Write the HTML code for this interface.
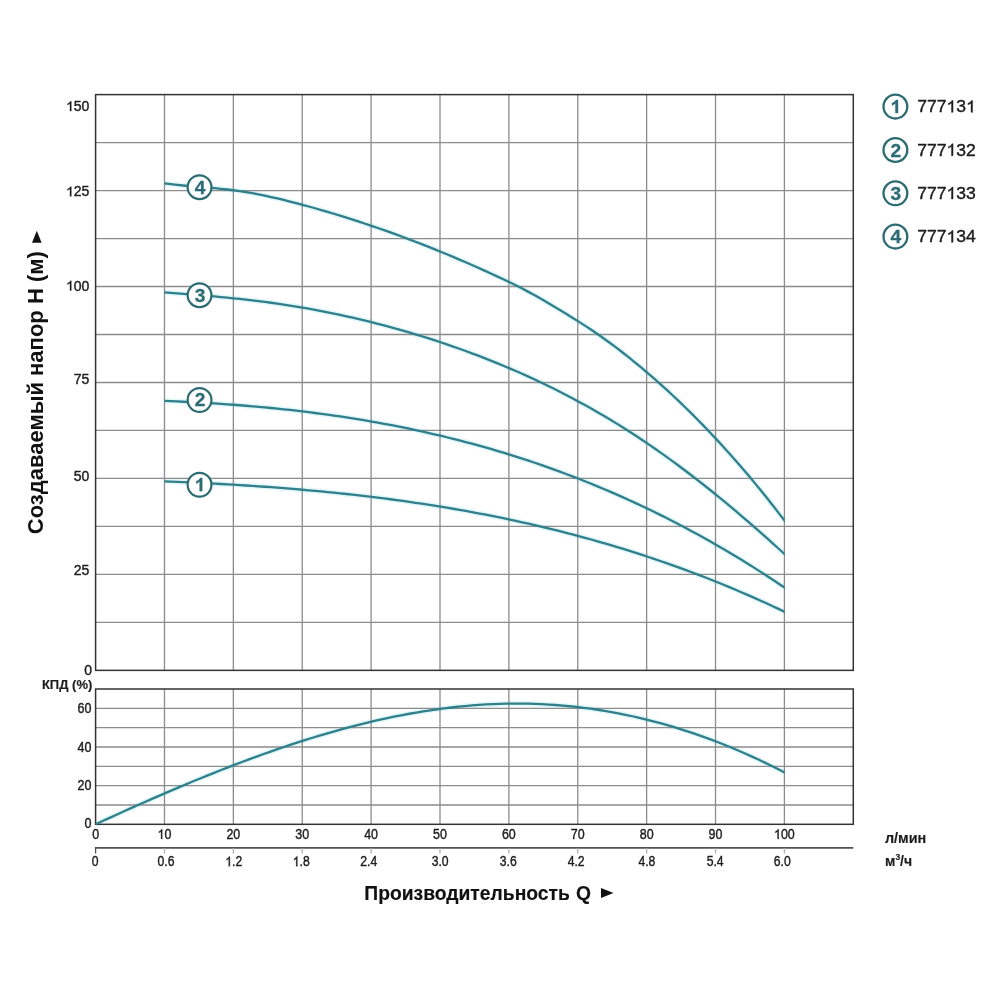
<!DOCTYPE html><html><head><meta charset="utf-8"><style>html,body{margin:0;padding:0;background:#fff;overflow:hidden}svg{display:block;will-change:transform}text{font-family:"Liberation Sans",sans-serif}</style></head><body>
<svg width="1000" height="1000" viewBox="0 0 1000 1000">
<rect width="1000" height="1000" fill="#fff"/>
<defs><clipPath id="cr"><rect x="90" y="0" width="694.7" height="1000"/></clipPath></defs>
<path d="M164.40,183.34 L170.66,184.15 L176.92,184.85 L183.18,185.48 L189.44,186.06 L195.70,186.59 L201.96,187.12 L208.22,187.65 L214.48,188.20 L220.75,188.80 L227.01,189.48 L233.27,190.24 L239.53,191.10 L245.79,192.08 L252.05,193.16 L258.31,194.34 L264.57,195.61 L270.83,196.95 L277.09,198.38 L283.35,199.87 L289.61,201.43 L295.87,203.04 L302.13,204.70 L308.39,206.40 L314.65,208.14 L320.92,209.93 L327.18,211.75 L333.44,213.62 L339.70,215.52 L345.96,217.47 L352.22,219.46 L358.48,221.48 L364.74,223.55 L371.00,225.66 L377.26,227.81 L383.52,229.99 L389.78,232.22 L396.04,234.48 L402.30,236.79 L408.56,239.13 L414.82,241.51 L421.08,243.93 L427.35,246.39 L433.61,248.89 L439.87,251.42 L446.13,254.00 L452.39,256.61 L458.65,259.26 L464.91,261.95 L471.17,264.67 L477.43,267.43 L483.69,270.23 L489.95,273.07 L496.21,275.94 L502.47,278.85 L508.73,281.81 L514.99,284.88 L521.25,288.07 L527.52,291.37 L533.78,294.78 L540.04,298.29 L546.30,301.88 L552.56,305.56 L558.82,309.31 L565.08,313.13 L571.34,317.01 L577.60,320.93 L583.86,324.92 L590.12,329.04 L596.38,333.28 L602.64,337.67 L608.90,342.18 L615.16,346.82 L621.42,351.60 L627.68,356.50 L633.95,361.53 L640.21,366.68 L646.47,371.96 L652.73,377.36 L658.99,382.89 L665.25,388.53 L671.51,394.29 L677.77,400.18 L684.03,406.18 L690.29,412.32 L696.55,418.57 L702.81,424.96 L709.07,431.47 L715.33,438.12 L721.59,444.89 L727.85,451.80 L734.12,458.84 L740.38,466.02 L746.64,473.34 L752.90,480.80 L759.16,488.39 L765.42,496.13 L771.68,504.01 L777.94,512.03 L784.20,520.20 M164.40,292.29 L170.66,292.79 L176.92,293.30 L183.18,293.80 L189.44,294.31 L195.70,294.83 L201.96,295.35 L208.22,295.90 L214.48,296.46 L220.75,297.03 L227.01,297.64 L233.27,298.26 L239.53,298.92 L245.79,299.60 L252.05,300.33 L258.31,301.08 L264.57,301.88 L270.83,302.72 L277.09,303.60 L283.35,304.53 L289.61,305.50 L295.87,306.51 L302.13,307.56 L308.39,308.66 L314.65,309.80 L320.92,310.99 L327.18,312.22 L333.44,313.49 L339.70,314.81 L345.96,316.17 L352.22,317.58 L358.48,319.03 L364.74,320.52 L371.00,322.06 L377.26,323.65 L383.52,325.28 L389.78,326.96 L396.04,328.68 L402.30,330.45 L408.56,332.27 L414.82,334.13 L421.08,336.04 L427.35,338.00 L433.61,340.00 L439.87,342.05 L446.13,344.14 L452.39,346.29 L458.65,348.48 L464.91,350.73 L471.17,353.03 L477.43,355.38 L483.69,357.78 L489.95,360.24 L496.21,362.75 L502.47,365.32 L508.73,367.96 L514.99,370.65 L521.25,373.40 L527.52,376.21 L533.78,379.08 L540.04,382.02 L546.30,385.03 L552.56,388.10 L558.82,391.23 L565.08,394.44 L571.34,397.71 L577.60,401.06 L583.86,404.47 L590.12,407.96 L596.38,411.53 L602.64,415.17 L608.90,418.88 L615.16,422.67 L621.42,426.54 L627.68,430.49 L633.95,434.52 L640.21,438.64 L646.47,442.83 L652.73,447.11 L658.99,451.47 L665.25,455.91 L671.51,460.43 L677.77,465.03 L684.03,469.70 L690.29,474.46 L696.55,479.28 L702.81,484.18 L709.07,489.15 L715.33,494.18 L721.59,499.29 L727.85,504.46 L734.12,509.70 L740.38,515.00 L746.64,520.36 L752.90,525.79 L759.16,531.27 L765.42,536.81 L771.68,542.41 L777.94,548.06 L784.20,553.77 M164.40,400.93 L170.66,401.18 L176.92,401.45 L183.18,401.73 L189.44,402.04 L195.70,402.36 L201.96,402.70 L208.22,403.07 L214.48,403.46 L220.75,403.87 L227.01,404.30 L233.27,404.75 L239.53,405.23 L245.79,405.73 L252.05,406.26 L258.31,406.81 L264.57,407.38 L270.83,407.98 L277.09,408.61 L283.35,409.26 L289.61,409.94 L295.87,410.65 L302.13,411.38 L308.39,412.15 L314.65,412.94 L320.92,413.76 L327.18,414.61 L333.44,415.50 L339.70,416.41 L345.96,417.35 L352.22,418.33 L358.48,419.34 L364.74,420.38 L371.00,421.45 L377.26,422.56 L383.52,423.70 L389.78,424.87 L396.04,426.08 L402.30,427.33 L408.56,428.61 L414.82,429.93 L421.08,431.28 L427.35,432.67 L433.61,434.10 L439.87,435.57 L446.13,437.07 L452.39,438.62 L458.65,440.20 L464.91,441.83 L471.17,443.49 L477.43,445.20 L483.69,446.94 L489.95,448.73 L496.21,450.56 L502.47,452.43 L508.73,454.35 L514.99,456.30 L521.25,458.31 L527.52,460.35 L533.78,462.44 L540.04,464.58 L546.30,466.76 L552.56,468.99 L558.82,471.26 L565.08,473.58 L571.34,475.95 L577.60,478.36 L583.86,480.82 L590.12,483.33 L596.38,485.89 L602.64,488.50 L608.90,491.16 L615.16,493.86 L621.42,496.62 L627.68,499.43 L633.95,502.29 L640.21,505.20 L646.47,508.17 L652.73,511.18 L658.99,514.25 L665.25,517.38 L671.51,520.55 L677.77,523.78 L684.03,527.07 L690.29,530.41 L696.55,533.80 L702.81,537.26 L709.07,540.76 L715.33,544.33 L721.59,547.95 L727.85,551.63 L734.12,555.37 L740.38,559.16 L746.64,563.02 L752.90,566.93 L759.16,570.90 L765.42,574.94 L771.68,579.03 L777.94,583.19 L784.20,587.40 M164.40,481.30 L170.66,481.56 L176.92,481.82 L183.18,482.10 L189.44,482.38 L195.70,482.67 L201.96,482.98 L208.22,483.30 L214.48,483.63 L220.75,483.97 L227.01,484.33 L233.27,484.69 L239.53,485.07 L245.79,485.47 L252.05,485.88 L258.31,486.30 L264.57,486.74 L270.83,487.19 L277.09,487.66 L283.35,488.14 L289.61,488.65 L295.87,489.16 L302.13,489.70 L308.39,490.25 L314.65,490.82 L320.92,491.41 L327.18,492.02 L333.44,492.64 L339.70,493.29 L345.96,493.95 L352.22,494.64 L358.48,495.34 L364.74,496.07 L371.00,496.82 L377.26,497.58 L383.52,498.38 L389.78,499.19 L396.04,500.02 L402.30,500.88 L408.56,501.76 L414.82,502.67 L421.08,503.60 L427.35,504.56 L433.61,505.54 L439.87,506.54 L446.13,507.57 L452.39,508.63 L458.65,509.71 L464.91,510.82 L471.17,511.96 L477.43,513.12 L483.69,514.31 L489.95,515.53 L496.21,516.78 L502.47,518.06 L508.73,519.37 L514.99,520.70 L521.25,522.07 L527.52,523.47 L533.78,524.90 L540.04,526.36 L546.30,527.85 L552.56,529.37 L558.82,530.93 L565.08,532.52 L571.34,534.14 L577.60,535.79 L583.86,537.48 L590.12,539.21 L596.38,540.96 L602.64,542.76 L608.90,544.59 L615.16,546.45 L621.42,548.35 L627.68,550.29 L633.95,552.26 L640.21,554.27 L646.47,556.32 L652.73,558.40 L658.99,560.53 L665.25,562.69 L671.51,564.89 L677.77,567.13 L684.03,569.41 L690.29,571.74 L696.55,574.10 L702.81,576.50 L709.07,578.95 L715.33,581.43 L721.59,583.96 L727.85,586.53 L734.12,589.14 L740.38,591.80 L746.64,594.50 L752.90,597.24 L759.16,600.03 L765.42,602.86 L771.68,605.74 L777.94,608.66 L784.20,611.63 M95.60,824.24 L102.56,821.04 L109.51,817.87 L116.47,814.71 L123.43,811.56 L130.38,808.44 L137.34,805.34 L144.30,802.26 L151.25,799.20 L158.21,796.16 L165.17,793.15 L172.12,790.17 L179.08,787.22 L186.04,784.29 L192.99,781.40 L199.95,778.53 L206.91,775.71 L213.86,772.91 L220.82,770.15 L227.77,767.43 L234.73,764.75 L241.69,762.10 L248.64,759.50 L255.60,756.94 L262.56,754.42 L269.51,751.95 L276.47,749.52 L283.43,747.14 L290.38,744.81 L297.34,742.53 L304.30,740.30 L311.25,738.12 L318.21,736.00 L325.17,733.93 L332.12,731.92 L339.08,729.96 L346.04,728.07 L352.99,726.23 L359.95,724.46 L366.91,722.75 L373.86,721.10 L380.82,719.52 L387.78,718.01 L394.73,716.56 L401.69,715.18 L408.65,713.88 L415.60,712.64 L422.56,711.48 L429.52,710.39 L436.47,709.38 L443.43,708.44 L450.38,707.59 L457.34,706.81 L464.30,706.11 L471.25,705.50 L478.21,704.97 L485.17,704.52 L492.12,704.16 L499.08,703.89 L506.04,703.70 L512.99,703.61 L519.95,703.61 L526.91,703.69 L533.86,703.87 L540.82,704.14 L547.78,704.50 L554.73,704.95 L561.69,705.49 L568.65,706.12 L575.60,706.85 L582.56,707.67 L589.52,708.58 L596.47,709.58 L603.43,710.68 L610.39,711.87 L617.34,713.15 L624.30,714.52 L631.26,715.99 L638.21,717.55 L645.17,719.21 L652.13,720.96 L659.08,722.81 L666.04,724.75 L672.99,726.78 L679.95,728.91 L686.91,731.13 L693.86,733.45 L700.82,735.87 L707.78,738.38 L714.73,740.98 L721.69,743.68 L728.65,746.48 L735.60,749.38 L742.56,752.37 L749.52,755.46 L756.47,758.64 L763.43,761.92 L770.39,765.30 L777.34,768.78 L784.30,772.36" stroke="#e3f8fa" stroke-width="5.5" fill="none"/>
<path d="M164.48,94.6 V670.36 M233.36,94.6 V670.36 M302.24,94.6 V670.36 M371.12,94.6 V670.36 M440.00,94.6 V670.36 M508.88,94.6 V670.36 M577.76,94.6 V670.36 M646.64,94.6 V670.36 M715.52,94.6 V670.36 M784.40,94.6 V670.36 M95.6,142.58 H853.28 M95.6,190.56 H853.28 M95.6,238.54 H853.28 M95.6,286.52 H853.28 M95.6,334.50 H853.28 M95.6,382.48 H853.28 M95.6,430.46 H853.28 M95.6,478.44 H853.28 M95.6,526.42 H853.28 M95.6,574.40 H853.28 M95.6,622.38 H853.28 M164.48,689.0 V824.31 M233.36,689.0 V824.31 M302.24,689.0 V824.31 M371.12,689.0 V824.31 M440.00,689.0 V824.31 M508.88,689.0 V824.31 M577.76,689.0 V824.31 M646.64,689.0 V824.31 M715.52,689.0 V824.31 M784.40,689.0 V824.31 M95.6,708.33 H853.28 M95.6,727.66 H853.28 M95.6,746.99 H853.28 M95.6,766.32 H853.28 M95.6,785.65 H853.28 M95.6,804.98 H853.28" stroke="#8c8c8c" stroke-width="1.3" fill="none"/>
<rect x="95.6" y="94.6" width="757.68" height="575.76" stroke="#333" stroke-width="1.5" fill="none"/>
<rect x="95.6" y="689.0" width="757.68" height="135.31" stroke="#333" stroke-width="1.5" fill="none"/>
<path d="M94.89999999999999,847.9 H853.28" stroke="#505050" stroke-width="1.6" fill="none"/>
<path d="M95.6,847.9 V853.5" stroke="#505050" stroke-width="1.3" fill="none"/>
<path d="M164.48,847.9 V853.5 M233.36,847.9 V853.5 M302.24,847.9 V853.5 M371.12,847.9 V853.5 M440.00,847.9 V853.5 M508.88,847.9 V853.5 M577.76,847.9 V853.5 M646.64,847.9 V853.5 M715.52,847.9 V853.5 M784.40,847.9 V853.5" stroke="#b0b0b0" stroke-width="1.3" fill="none"/>
<path d="M164.40,183.34 L170.68,184.15 L176.95,184.86 L183.23,185.49 L189.51,186.06 L195.78,186.60 L202.06,187.13 L208.34,187.66 L214.61,188.21 L220.89,188.82 L227.17,189.49 L233.44,190.26 L239.72,191.13 L246.00,192.11 L252.27,193.20 L258.55,194.39 L264.83,195.66 L271.11,197.02 L277.38,198.45 L283.66,199.95 L289.94,201.51 L296.21,203.13 L302.49,204.80 L308.77,206.50 L315.04,208.25 L321.32,210.04 L327.60,211.88 L333.87,213.75 L340.15,215.66 L346.43,217.62 L352.70,219.61 L358.98,221.65 L365.26,223.72 L371.53,225.84 L377.81,228.00 L384.09,230.19 L390.36,232.43 L396.64,234.70 L402.92,237.01 L409.19,239.37 L415.47,241.76 L421.75,244.19 L428.02,246.66 L434.30,249.17 L440.58,251.72 L446.85,254.30 L453.13,256.92 L459.41,259.58 L465.68,262.28 L471.96,265.02 L478.24,267.79 L484.52,270.60 L490.79,273.45 L497.07,276.34 L503.35,279.26 L509.62,282.24 L515.90,285.33 L522.18,288.55 L528.45,291.88 L534.73,295.31 L541.01,298.84 L547.28,302.46 L553.56,306.16 L559.84,309.93 L566.11,313.77 L572.39,317.66 L578.67,321.61 L584.94,325.62 L591.22,329.77 L597.50,334.05 L603.77,338.47 L610.05,343.02 L616.33,347.70 L622.60,352.51 L628.88,357.45 L635.16,362.52 L641.43,367.71 L647.71,373.03 L653.99,378.47 L660.26,384.03 L666.54,389.71 L672.82,395.51 L679.09,401.44 L685.37,407.49 L691.65,413.66 L697.93,419.96 L704.20,426.39 L710.48,432.95 L716.76,439.64 L723.03,446.47 L729.31,453.42 L735.59,460.52 L741.86,467.75 L748.14,475.12 L754.42,482.63 L760.69,490.28 L766.97,498.07 L773.25,506.01 L779.52,514.09 L785.80,522.31" stroke="#307f8b" stroke-width="2.3" fill="none" clip-path="url(#cr)"/>
<path d="M164.40,292.29 L170.68,292.80 L176.95,293.30 L183.23,293.80 L189.51,294.31 L195.78,294.83 L202.06,295.36 L208.34,295.91 L214.61,296.47 L220.89,297.05 L227.17,297.65 L233.44,298.28 L239.72,298.94 L246.00,299.63 L252.27,300.35 L258.55,301.11 L264.83,301.92 L271.11,302.76 L277.38,303.65 L283.66,304.58 L289.94,305.55 L296.21,306.57 L302.49,307.63 L308.77,308.73 L315.04,309.88 L321.32,311.07 L327.60,312.30 L333.87,313.58 L340.15,314.90 L346.43,316.27 L352.70,317.69 L358.98,319.14 L365.26,320.65 L371.53,322.20 L377.81,323.79 L384.09,325.43 L390.36,327.12 L396.64,328.85 L402.92,330.63 L409.19,332.45 L415.47,334.33 L421.75,336.24 L428.02,338.21 L434.30,340.22 L440.58,342.28 L446.85,344.39 L453.13,346.55 L459.41,348.75 L465.68,351.01 L471.96,353.32 L478.24,355.68 L484.52,358.10 L490.79,360.57 L497.07,363.10 L503.35,365.69 L509.62,368.33 L515.90,371.04 L522.18,373.81 L528.45,376.63 L534.73,379.53 L541.01,382.48 L547.28,385.50 L553.56,388.59 L559.84,391.75 L566.11,394.97 L572.39,398.27 L578.67,401.64 L584.94,405.07 L591.22,408.58 L597.50,412.17 L603.77,415.83 L610.05,419.57 L616.33,423.39 L622.60,427.28 L628.88,431.26 L635.16,435.31 L641.43,439.45 L647.71,443.67 L653.99,447.98 L660.26,452.37 L666.54,456.84 L672.82,461.39 L679.09,466.01 L685.37,470.72 L691.65,475.50 L697.93,480.35 L704.20,485.27 L710.48,490.27 L716.76,495.34 L723.03,500.47 L729.31,505.67 L735.59,510.94 L741.86,516.27 L748.14,521.66 L754.42,527.11 L760.69,532.62 L766.97,538.19 L773.25,543.82 L779.52,549.50 L785.80,555.23" stroke="#307f8b" stroke-width="2.3" fill="none" clip-path="url(#cr)"/>
<path d="M164.40,400.93 L170.68,401.18 L176.95,401.45 L183.23,401.73 L189.51,402.04 L195.78,402.36 L202.06,402.71 L208.34,403.08 L214.61,403.47 L220.89,403.88 L227.17,404.31 L233.44,404.77 L239.72,405.25 L246.00,405.75 L252.27,406.28 L258.55,406.83 L264.83,407.41 L271.11,408.01 L277.38,408.64 L283.66,409.29 L289.94,409.98 L296.21,410.69 L302.49,411.43 L308.77,412.19 L315.04,412.99 L321.32,413.82 L327.60,414.67 L333.87,415.56 L340.15,416.48 L346.43,417.43 L352.70,418.41 L358.98,419.42 L365.26,420.46 L371.53,421.54 L377.81,422.65 L384.09,423.80 L390.36,424.98 L396.64,426.20 L402.92,427.45 L409.19,428.74 L415.47,430.06 L421.75,431.42 L428.02,432.82 L434.30,434.26 L440.58,435.74 L446.85,437.25 L453.13,438.80 L459.41,440.40 L465.68,442.03 L471.96,443.70 L478.24,445.42 L484.52,447.17 L490.79,448.97 L497.07,450.81 L503.35,452.70 L509.62,454.62 L515.90,456.59 L522.18,458.61 L528.45,460.66 L534.73,462.77 L541.01,464.91 L547.28,467.11 L553.56,469.35 L559.84,471.63 L566.11,473.97 L572.39,476.35 L578.67,478.78 L584.94,481.25 L591.22,483.78 L597.50,486.35 L603.77,488.98 L610.05,491.65 L616.33,494.37 L622.60,497.15 L628.88,499.97 L635.16,502.85 L641.43,505.78 L647.71,508.76 L653.99,511.80 L660.26,514.89 L666.54,518.03 L672.82,521.22 L679.09,524.47 L685.37,527.78 L691.65,531.14 L697.93,534.56 L704.20,538.03 L710.48,541.56 L716.76,545.15 L723.03,548.79 L729.31,552.49 L735.59,556.25 L741.86,560.07 L748.14,563.95 L754.42,567.89 L760.69,571.89 L766.97,575.95 L773.25,580.07 L779.52,584.25 L785.80,588.49" stroke="#307f8b" stroke-width="2.3" fill="none" clip-path="url(#cr)"/>
<path d="M164.40,481.30 L170.68,481.56 L176.95,481.82 L183.23,482.10 L189.51,482.38 L195.78,482.68 L202.06,482.99 L208.34,483.30 L214.61,483.64 L220.89,483.98 L227.17,484.33 L233.44,484.70 L239.72,485.09 L246.00,485.48 L252.27,485.89 L258.55,486.32 L264.83,486.76 L271.11,487.21 L277.38,487.68 L283.66,488.17 L289.94,488.67 L296.21,489.19 L302.49,489.73 L308.77,490.28 L315.04,490.86 L321.32,491.45 L327.60,492.06 L333.87,492.69 L340.15,493.33 L346.43,494.00 L352.70,494.69 L358.98,495.40 L365.26,496.13 L371.53,496.88 L377.81,497.65 L384.09,498.45 L390.36,499.26 L396.64,500.10 L402.92,500.97 L409.19,501.85 L415.47,502.77 L421.75,503.70 L428.02,504.66 L434.30,505.65 L440.58,506.66 L446.85,507.69 L453.13,508.75 L459.41,509.84 L465.68,510.96 L471.96,512.10 L478.24,513.27 L484.52,514.47 L490.79,515.70 L497.07,516.96 L503.35,518.24 L509.62,519.56 L515.90,520.90 L522.18,522.28 L528.45,523.68 L534.73,525.12 L541.01,526.59 L547.28,528.09 L553.56,529.62 L559.84,531.19 L566.11,532.78 L572.39,534.41 L578.67,536.08 L584.94,537.78 L591.22,539.51 L597.50,541.28 L603.77,543.09 L610.05,544.92 L616.33,546.80 L622.60,548.71 L628.88,550.66 L635.16,552.65 L641.43,554.67 L647.71,556.73 L653.99,558.83 L660.26,560.97 L666.54,563.14 L672.82,565.36 L679.09,567.61 L685.37,569.91 L691.65,572.25 L697.93,574.62 L704.20,577.04 L710.48,579.50 L716.76,582.00 L723.03,584.55 L729.31,587.13 L735.59,589.76 L741.86,592.44 L748.14,595.15 L754.42,597.91 L760.69,600.72 L766.97,603.57 L773.25,606.47 L779.52,609.41 L785.80,612.40" stroke="#307f8b" stroke-width="2.3" fill="none" clip-path="url(#cr)"/>
<path d="M95.60,824.24 L102.57,821.04 L109.54,817.85 L116.52,814.69 L123.49,811.54 L130.46,808.41 L137.43,805.30 L144.40,802.21 L151.37,799.14 L158.35,796.10 L165.32,793.09 L172.29,790.10 L179.26,787.14 L186.23,784.21 L193.20,781.31 L200.18,778.44 L207.15,775.61 L214.12,772.81 L221.09,770.04 L228.06,767.32 L235.03,764.63 L242.01,761.98 L248.98,759.37 L255.95,756.81 L262.92,754.29 L269.89,751.81 L276.86,749.38 L283.84,747.00 L290.81,744.67 L297.78,742.39 L304.75,740.16 L311.72,737.98 L318.69,735.85 L325.67,733.78 L332.64,731.77 L339.61,729.82 L346.58,727.92 L353.55,726.09 L360.53,724.32 L367.50,722.61 L374.47,720.96 L381.44,719.38 L388.41,717.87 L395.38,716.43 L402.36,715.05 L409.33,713.75 L416.30,712.52 L423.27,711.36 L430.24,710.28 L437.21,709.28 L444.19,708.35 L451.16,707.50 L458.13,706.73 L465.10,706.04 L472.07,705.43 L479.04,704.91 L486.02,704.47 L492.99,704.12 L499.96,703.86 L506.93,703.69 L513.90,703.60 L520.87,703.61 L527.85,703.71 L534.82,703.90 L541.79,704.18 L548.76,704.56 L555.73,705.02 L562.71,705.58 L569.68,706.23 L576.65,706.97 L583.62,707.80 L590.59,708.73 L597.56,709.75 L604.54,710.86 L611.51,712.07 L618.48,713.37 L625.45,714.76 L632.42,716.25 L639.39,717.83 L646.37,719.51 L653.34,721.28 L660.31,723.14 L667.28,725.10 L674.25,727.16 L681.22,729.31 L688.20,731.55 L695.17,733.90 L702.14,736.33 L709.11,738.87 L716.08,741.50 L723.05,744.23 L730.03,747.05 L737.00,749.97 L743.97,752.99 L750.94,756.10 L757.91,759.31 L764.88,762.62 L771.86,766.03 L778.83,769.54 L785.80,773.14" stroke="#307f8b" stroke-width="2.3" fill="none" clip-path="url(#cr)"/>
<circle cx="199.55" cy="187.2" r="11.9" fill="#fff" stroke="#2c6b72" stroke-width="2.2"/>
<text transform="translate(200.05 193.60) scale(1.0 1)" font-size="19.2" font-weight="bold" stroke="#2d6c76" stroke-width="0.3" text-anchor="middle" fill="#2d6c76">4</text>
<circle cx="199.55" cy="295.2" r="11.9" fill="#fff" stroke="#2c6b72" stroke-width="2.2"/>
<text transform="translate(200.05 301.60) scale(1.0 1)" font-size="19.2" font-weight="bold" stroke="#2d6c76" stroke-width="0.3" text-anchor="middle" fill="#2d6c76">3</text>
<circle cx="199.55" cy="400.0" r="11.9" fill="#fff" stroke="#2c6b72" stroke-width="2.2"/>
<text transform="translate(200.05 406.40) scale(1.0 1)" font-size="19.2" font-weight="bold" stroke="#2d6c76" stroke-width="0.3" text-anchor="middle" fill="#2d6c76">2</text>
<circle cx="199.55" cy="484.75" r="11.9" fill="#fff" stroke="#2c6b72" stroke-width="2.2"/>
<text transform="translate(194.71 491.15) scale(1.0 1)" font-size="19.2" font-weight="bold" stroke="#2d6c76" stroke-width="0.3" fill="#2d6c76"> </text><path transform="translate(194.71 491.15) scale(0.00937 -0.00937)" d="M526 0 H807 V1409 H579 Q530 1290 410 1200 Q290 1110 163 1068 V815 Q260 848 360 905 Q460 962 526 1022 Z" fill="#2d6c76" stroke="#2d6c76" stroke-width="32.0"/>
<circle cx="895.4" cy="106.6" r="11.9" fill="#fff" stroke="#2c6b72" stroke-width="2.3"/>
<text transform="translate(890.46 113.10) scale(1.0 1)" font-size="19.2" font-weight="bold" stroke="#2d6c76" stroke-width="0.3" fill="#2d6c76"> </text><path transform="translate(890.46 113.10) scale(0.00937 -0.00937)" d="M526 0 H807 V1409 H579 Q530 1290 410 1200 Q290 1110 163 1068 V815 Q260 848 360 905 Q460 962 526 1022 Z" fill="#2d6c76" stroke="#2d6c76" stroke-width="32.0"/>
<text transform="translate(917.20 112.30) scale(1.015 1)" font-size="17.3" stroke="#1c1c1c" stroke-width="0.4" fill="#1c1c1c">777 3 </text><path transform="translate(946.50 112.30) scale(0.00857 -0.00845)" d="M583 0 H763 V1409 H648 Q600 1310 490 1220 Q380 1130 221 1062 V892 Q330 935 420 990 Q510 1045 583 1110 Z" fill="#1c1c1c" stroke="#1c1c1c" stroke-width="47.4"/><path transform="translate(966.03 112.30) scale(0.00857 -0.00845)" d="M583 0 H763 V1409 H648 Q600 1310 490 1220 Q380 1130 221 1062 V892 Q330 935 420 990 Q510 1045 583 1110 Z" fill="#1c1c1c" stroke="#1c1c1c" stroke-width="47.4"/>
<circle cx="895.4" cy="150.0" r="11.9" fill="#fff" stroke="#2c6b72" stroke-width="2.3"/>
<text transform="translate(895.80 156.50) scale(1.0 1)" font-size="19.2" font-weight="bold" stroke="#2d6c76" stroke-width="0.3" text-anchor="middle" fill="#2d6c76">2</text>
<text transform="translate(917.20 155.70) scale(1.015 1)" font-size="17.3" stroke="#1c1c1c" stroke-width="0.4" fill="#1c1c1c">777 32</text><path transform="translate(946.50 155.70) scale(0.00857 -0.00845)" d="M583 0 H763 V1409 H648 Q600 1310 490 1220 Q380 1130 221 1062 V892 Q330 935 420 990 Q510 1045 583 1110 Z" fill="#1c1c1c" stroke="#1c1c1c" stroke-width="47.4"/>
<circle cx="895.4" cy="193.3" r="11.9" fill="#fff" stroke="#2c6b72" stroke-width="2.3"/>
<text transform="translate(895.80 199.80) scale(1.0 1)" font-size="19.2" font-weight="bold" stroke="#2d6c76" stroke-width="0.3" text-anchor="middle" fill="#2d6c76">3</text>
<text transform="translate(917.20 199.00) scale(1.015 1)" font-size="17.3" stroke="#1c1c1c" stroke-width="0.4" fill="#1c1c1c">777 33</text><path transform="translate(946.50 199.00) scale(0.00857 -0.00845)" d="M583 0 H763 V1409 H648 Q600 1310 490 1220 Q380 1130 221 1062 V892 Q330 935 420 990 Q510 1045 583 1110 Z" fill="#1c1c1c" stroke="#1c1c1c" stroke-width="47.4"/>
<circle cx="895.4" cy="236.6" r="11.9" fill="#fff" stroke="#2c6b72" stroke-width="2.3"/>
<text transform="translate(895.80 243.10) scale(1.0 1)" font-size="19.2" font-weight="bold" stroke="#2d6c76" stroke-width="0.3" text-anchor="middle" fill="#2d6c76">4</text>
<text transform="translate(917.20 242.30) scale(1.015 1)" font-size="17.3" stroke="#1c1c1c" stroke-width="0.4" fill="#1c1c1c">777 34</text><path transform="translate(946.50 242.30) scale(0.00857 -0.00845)" d="M583 0 H763 V1409 H648 Q600 1310 490 1220 Q380 1130 221 1062 V892 Q330 935 420 990 Q510 1045 583 1110 Z" fill="#1c1c1c" stroke="#1c1c1c" stroke-width="47.4"/>
<text transform="translate(66.04 111.00) scale(1.0 1)" font-size="14" stroke="#1c1c1c" stroke-width="0.4" fill="#1c1c1c"> 50</text><path transform="translate(66.04 111.00) scale(0.00684 -0.00684)" d="M583 0 H763 V1409 H648 Q600 1310 490 1220 Q380 1130 221 1062 V892 Q330 935 420 990 Q510 1045 583 1110 Z" fill="#1c1c1c" stroke="#1c1c1c" stroke-width="58.5"/>
<text transform="translate(66.04 196.30) scale(1.0 1)" font-size="14" stroke="#1c1c1c" stroke-width="0.4" fill="#1c1c1c"> 25</text><path transform="translate(66.04 196.30) scale(0.00684 -0.00684)" d="M583 0 H763 V1409 H648 Q600 1310 490 1220 Q380 1130 221 1062 V892 Q330 935 420 990 Q510 1045 583 1110 Z" fill="#1c1c1c" stroke="#1c1c1c" stroke-width="58.5"/>
<text transform="translate(66.04 290.50) scale(1.0 1)" font-size="14" stroke="#1c1c1c" stroke-width="0.4" fill="#1c1c1c"> 00</text><path transform="translate(66.04 290.50) scale(0.00684 -0.00684)" d="M583 0 H763 V1409 H648 Q600 1310 490 1220 Q380 1130 221 1062 V892 Q330 935 420 990 Q510 1045 583 1110 Z" fill="#1c1c1c" stroke="#1c1c1c" stroke-width="58.5"/>
<text transform="translate(89.40 384.20) scale(1.0 1)" font-size="14" stroke="#1c1c1c" stroke-width="0.4" text-anchor="end" fill="#1c1c1c">75</text>
<text transform="translate(89.40 480.50) scale(1.0 1)" font-size="14" stroke="#1c1c1c" stroke-width="0.4" text-anchor="end" fill="#1c1c1c">50</text>
<text transform="translate(89.40 575.00) scale(1.0 1)" font-size="14" stroke="#1c1c1c" stroke-width="0.4" text-anchor="end" fill="#1c1c1c">25</text>
<text transform="translate(92.00 675.30) scale(1.0 1)" font-size="14" stroke="#1c1c1c" stroke-width="0.4" text-anchor="end" fill="#1c1c1c">0</text>
<text transform="translate(91.50 712.60) scale(0.9 1)" font-size="13.9" stroke="#1c1c1c" stroke-width="0.4" text-anchor="end" fill="#1c1c1c">60</text>
<text transform="translate(91.50 751.60) scale(0.9 1)" font-size="13.9" stroke="#1c1c1c" stroke-width="0.4" text-anchor="end" fill="#1c1c1c">40</text>
<text transform="translate(91.50 789.60) scale(0.9 1)" font-size="13.9" stroke="#1c1c1c" stroke-width="0.4" text-anchor="end" fill="#1c1c1c">20</text>
<text transform="translate(91.50 828.20) scale(0.9 1)" font-size="13.9" stroke="#1c1c1c" stroke-width="0.4" text-anchor="end" fill="#1c1c1c">0</text>
<text transform="translate(92.30 689.20) scale(1.0 1)" font-size="13" font-weight="bold" stroke="#1c1c1c" stroke-width="0.15" text-anchor="end" fill="#1c1c1c">КПД (%)</text>
<text transform="translate(95.60 838.90) scale(0.89 1)" font-size="14" stroke="#1c1c1c" stroke-width="0.4" text-anchor="middle" fill="#1c1c1c">0</text>
<text transform="translate(157.55 838.90) scale(0.89 1)" font-size="14" stroke="#1c1c1c" stroke-width="0.4" fill="#1c1c1c"> 0</text><path transform="translate(157.55 838.90) scale(0.00608 -0.00684)" d="M583 0 H763 V1409 H648 Q600 1310 490 1220 Q380 1130 221 1062 V892 Q330 935 420 990 Q510 1045 583 1110 Z" fill="#1c1c1c" stroke="#1c1c1c" stroke-width="58.5"/>
<text transform="translate(233.36 838.90) scale(0.89 1)" font-size="14" stroke="#1c1c1c" stroke-width="0.4" text-anchor="middle" fill="#1c1c1c">20</text>
<text transform="translate(302.24 838.90) scale(0.89 1)" font-size="14" stroke="#1c1c1c" stroke-width="0.4" text-anchor="middle" fill="#1c1c1c">30</text>
<text transform="translate(371.12 838.90) scale(0.89 1)" font-size="14" stroke="#1c1c1c" stroke-width="0.4" text-anchor="middle" fill="#1c1c1c">40</text>
<text transform="translate(440.00 838.90) scale(0.89 1)" font-size="14" stroke="#1c1c1c" stroke-width="0.4" text-anchor="middle" fill="#1c1c1c">50</text>
<text transform="translate(508.88 838.90) scale(0.89 1)" font-size="14" stroke="#1c1c1c" stroke-width="0.4" text-anchor="middle" fill="#1c1c1c">60</text>
<text transform="translate(577.76 838.90) scale(0.89 1)" font-size="14" stroke="#1c1c1c" stroke-width="0.4" text-anchor="middle" fill="#1c1c1c">70</text>
<text transform="translate(646.64 838.90) scale(0.89 1)" font-size="14" stroke="#1c1c1c" stroke-width="0.4" text-anchor="middle" fill="#1c1c1c">80</text>
<text transform="translate(715.52 838.90) scale(0.89 1)" font-size="14" stroke="#1c1c1c" stroke-width="0.4" text-anchor="middle" fill="#1c1c1c">90</text>
<text transform="translate(774.01 838.90) scale(0.89 1)" font-size="14" stroke="#1c1c1c" stroke-width="0.4" fill="#1c1c1c"> 00</text><path transform="translate(774.01 838.90) scale(0.00608 -0.00684)" d="M583 0 H763 V1409 H648 Q600 1310 490 1220 Q380 1130 221 1062 V892 Q330 935 420 990 Q510 1045 583 1110 Z" fill="#1c1c1c" stroke="#1c1c1c" stroke-width="58.5"/>
<text transform="translate(95.10 866.20) scale(0.87 1)" font-size="14" stroke="#1c1c1c" stroke-width="0.4" text-anchor="middle" fill="#1c1c1c">0</text>
<text transform="translate(165.98 866.20) scale(0.87 1)" font-size="14" stroke="#1c1c1c" stroke-width="0.4" text-anchor="middle" fill="#1c1c1c">0.6</text>
<text transform="translate(225.29 866.20) scale(0.87 1)" font-size="14" stroke="#1c1c1c" stroke-width="0.4" fill="#1c1c1c"> .2</text><path transform="translate(225.29 866.20) scale(0.00595 -0.00684)" d="M583 0 H763 V1409 H648 Q600 1310 490 1220 Q380 1130 221 1062 V892 Q330 935 420 990 Q510 1045 583 1110 Z" fill="#1c1c1c" stroke="#1c1c1c" stroke-width="58.5"/>
<text transform="translate(292.77 866.20) scale(0.87 1)" font-size="14" stroke="#1c1c1c" stroke-width="0.4" fill="#1c1c1c"> .8</text><path transform="translate(292.77 866.20) scale(0.00595 -0.00684)" d="M583 0 H763 V1409 H648 Q600 1310 490 1220 Q380 1130 221 1062 V892 Q330 935 420 990 Q510 1045 583 1110 Z" fill="#1c1c1c" stroke="#1c1c1c" stroke-width="58.5"/>
<text transform="translate(368.72 866.20) scale(0.87 1)" font-size="14" stroke="#1c1c1c" stroke-width="0.4" text-anchor="middle" fill="#1c1c1c">2.4</text>
<text transform="translate(440.10 866.20) scale(0.87 1)" font-size="14" stroke="#1c1c1c" stroke-width="0.4" text-anchor="middle" fill="#1c1c1c">3.0</text>
<text transform="translate(508.28 866.20) scale(0.87 1)" font-size="14" stroke="#1c1c1c" stroke-width="0.4" text-anchor="middle" fill="#1c1c1c">3.6</text>
<text transform="translate(576.16 866.20) scale(0.87 1)" font-size="14" stroke="#1c1c1c" stroke-width="0.4" text-anchor="middle" fill="#1c1c1c">4.2</text>
<text transform="translate(646.84 866.20) scale(0.87 1)" font-size="14" stroke="#1c1c1c" stroke-width="0.4" text-anchor="middle" fill="#1c1c1c">4.8</text>
<text transform="translate(715.12 866.20) scale(0.87 1)" font-size="14" stroke="#1c1c1c" stroke-width="0.4" text-anchor="middle" fill="#1c1c1c">5.4</text>
<text transform="translate(782.20 866.20) scale(0.87 1)" font-size="14" stroke="#1c1c1c" stroke-width="0.4" text-anchor="middle" fill="#1c1c1c">6.0</text>
<text transform="translate(884.90 843.00) scale(1.03 1)" font-size="14" font-weight="bold" stroke="#1c1c1c" stroke-width="0.15" fill="#1c1c1c">л/мин</text>
<text transform="translate(884.9 866) scale(1.0 1)" font-size="14" font-weight="bold" fill="#1c1c1c" stroke="#1c1c1c" stroke-width="0.15">м<tspan font-size="8.5" dy="-5.9" dx="0.3">3</tspan><tspan dy="5.9" dx="-0.2">/ч</tspan></text>
<text transform="translate(364.30 899.60) scale(1.0 1)" font-size="19.3" font-weight="bold" stroke="#111" stroke-width="0.15" fill="#111">Производительность</text>
<text transform="translate(576.00 899.60) scale(1.0 1)" font-size="19.3" font-weight="bold" stroke="#111" stroke-width="0.15" fill="#111">Q</text>
<path d="M601,888 L613.5,893 L601,898 Z" fill="#111"/>
<g transform="translate(43.2,534.2) rotate(-90)"><text x="0" y="0" font-size="22" font-weight="bold" fill="#111">Создаваемый напор Н (м)</text></g>
<path d="M32,242.8 L41.6,242.8 L36.8,230.8 Z" fill="#111"/>
</svg></body></html>
